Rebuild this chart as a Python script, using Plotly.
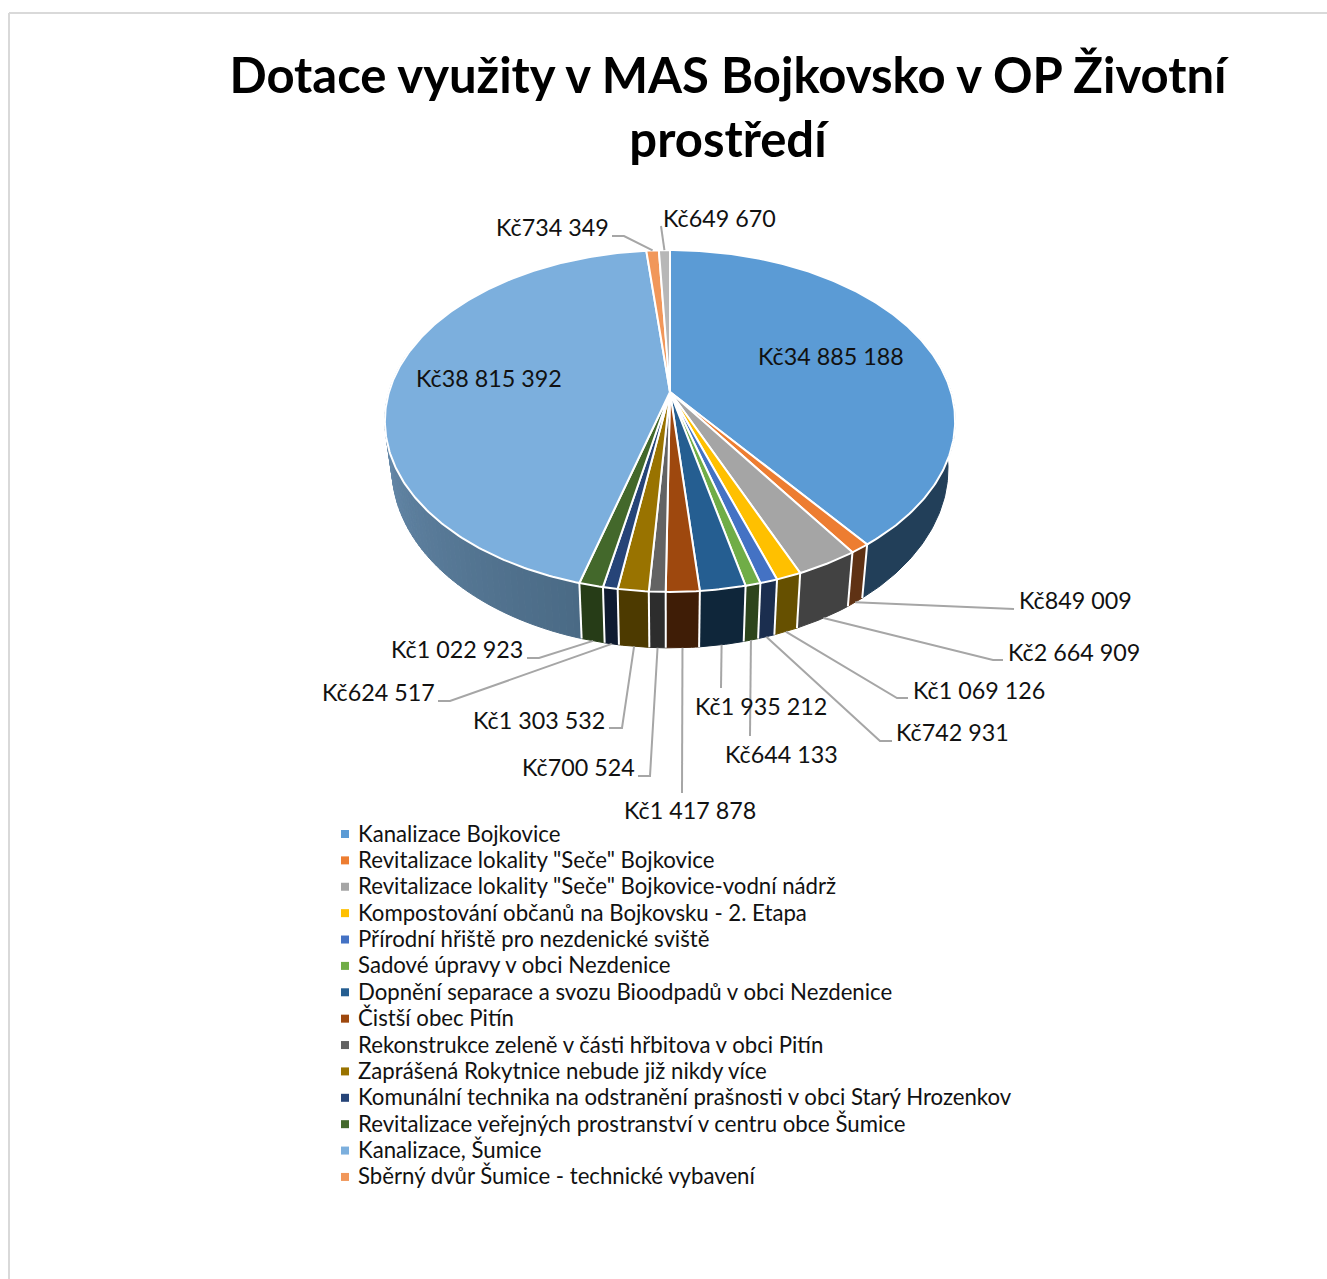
import math
import plotly.graph_objects as go

# ---------- data ----------
names = [
    "Kanalizace Bojkovice",
    'Revitalizace lokality "Seče" Bojkovice',
    'Revitalizace lokality "Seče" Bojkovice-vodní nádrž',
    "Kompostování občanů na Bojkovsku - 2. Etapa",
    "Přírodní hřiště pro nezdenické sviště",
    "Sadové úpravy v obci Nezdenice",
    "Dopnění separace a svozu Bioodpadů v obci Nezdenice",
    "Čistší obec Pitín",
    "Rekonstrukce zeleně v části hřbitova v obci Pitín",
    "Zaprášená Rokytnice nebude již nikdy více",
    "Komunální technika na odstranění prašnosti v obci Starý Hrozenkov",
    "Revitalizace veřejných prostranství v centru obce Šumice",
    "Kanalizace, Šumice",
    "Sběrný dvůr Šumice - technické vybavení",
    "",
]
values = [34885188, 849009, 2664909, 1069126, 742931, 644133, 1935212, 1417878,
          700524, 1303532, 624517, 1022923, 38815392, 734349, 649670]

# ---------- styles / layout ----------
top_colors = ["#5b9bd5", "#ed7d31", "#a5a5a5", "#ffc000", "#4472c4", "#70ad47", "#255e91", "#9e480e",
              "#636363", "#997300", "#264478", "#43682b", "#7cafdd", "#f1975a", "#b7b7b7"]
wall_colors = ["#223f59", "#5f3214", "#424242", "#665000", "#1b2e4f", "#2d451c", "#0f263a", "#3f1d06",
               "#2d2d2d", "#4d3a00", "#0f1b30", "#263c17", "#4a6a85", "#60391f", "#494949"]
FONT = "Lato"
LABEL_SIZE = 23.3
LEGEND_SIZE = 22.2
TITLE_SIZE = 49
LABEL_COLOR = "#111111"
CX, CY, A, B, K = 670.0, 392.0, 281.0, 166.0, 0.1695   # top face projection
BX, BY, BS = 0.975, 438.0, 1.05                         # bottom rim projection

# label centre, then elbow points of each leader (slice order)
label_pos = [(831, 356), (1075, 600), (1074, 652), (979, 690), (952, 732), (781, 754), (761, 706),
             (690, 810), (578, 767), (539, 720), (378, 692), (457, 649), (489, 378), (552, 227), (719, 218)]
leader_elbows = [None,
                 [(1005, 609), (1014, 609)],
                 [(993, 660), (1003, 660)],
                 [(897, 698), (908, 698)],
                 [(880, 741), (892, 741)],
                 [(750, 736)],
                 [(721, 688)],
                 [(682, 793)],
                 [(650, 776), (638, 776)],
                 [(622, 728), (609, 728)],
                 [(450, 701), (438, 701)],
                 [(539, 658), (527, 658)],
                 None,
                 [(624, 236), (612, 236)],
                 [(661, 226)]]
LEADER_COLOR = "#a6a6a6"
LEG_MARK_X, LEG_TEXT_X, LEG_Y0, LEG_DY = 345, 358, 833, 26.38


def top_pt(t):
    u, v = math.sin(t), math.cos(t)
    d = 1 + K * v
    return CX + A * u / d, CY - B * v / d


def bot_pt(t):
    u, v = math.sin(t), math.cos(t)
    d = 1 + K * v
    return CX + BX * A * u / d, BY - BS * B * v / d


def mix(c1, c2, f):
    a = [int(c1[i:i + 2], 16) for i in (1, 3, 5)]
    b = [int(c2[i:i + 2], 16) for i in (1, 3, 5)]
    return "#%02x%02x%02x" % tuple(round(p + (q - p) * f) for p, q in zip(a, b))


total = sum(values)
edges = [0.0]
for val in values:
    edges.append(edges[-1] + val / total * 2 * math.pi)

fig = go.Figure()
WALL_MIN, WALL_MAX = math.radians(70), math.radians(290)


def arc(a, b, step=math.radians(0.7)):
    n = max(2, int(abs(b - a) / step) + 1)
    return [a + (b - a) * i / n for i in range(n + 1)]


# side wall
for i, val in enumerate(values):
    a, b = max(edges[i], WALL_MIN), min(edges[i + 1], WALL_MAX)
    if b <= a:
        continue
    parts = 70 if i == 12 else 1
    for p in range(parts):
        s, e = a + (b - a) * p / parts, a + (b - a) * (p + 1) / parts
        ts = arc(s, e)
        pts = [top_pt(t) for t in ts] + [bot_pt(t) for t in reversed(ts)]
        col = wall_colors[i]
        if i == 12:
            col = mix("#4a6a85", "#7297ba", (p + 0.5) / parts)
        fig.add_trace(go.Scatter(x=[q[0] for q in pts] + [pts[0][0]], y=[q[1] for q in pts] + [pts[0][1]],
                                 mode="lines", fill="toself", fillcolor=col, line=dict(color=col, width=1),
                                 hoverinfo="skip", showlegend=False))

# white separators on the wall
for t in edges:
    if WALL_MIN < t < WALL_MAX:
        p, q = top_pt(t), bot_pt(t)
        fig.add_trace(go.Scatter(x=[p[0], q[0]], y=[p[1], q[1]], mode="lines",
                                 line=dict(color="white", width=2), hoverinfo="skip", showlegend=False))

# top face
for i, val in enumerate(values):
    ts = arc(edges[i], edges[i + 1])
    pts = [(CX, CY)] + [top_pt(t) for t in ts] + [(CX, CY)]
    fig.add_trace(go.Scatter(x=[q[0] for q in pts], y=[q[1] for q in pts], mode="lines", fill="toself",
                             fillcolor=top_colors[i], line=dict(color="white", width=2),
                             name=names[i] or "Kč%d" % val, hoverinfo="skip", showlegend=False))

# leaders
for i, elbows in enumerate(leader_elbows):
    if not elbows:
        continue
    mid = (edges[i] + edges[i + 1]) / 2
    start = top_pt(mid) if (mid < WALL_MIN or mid > WALL_MAX) else bot_pt(mid)
    pts = [start] + elbows
    fig.add_trace(go.Scatter(x=[q[0] for q in pts], y=[q[1] for q in pts], mode="lines",
                             line=dict(color=LEADER_COLOR, width=2), hoverinfo="skip", showlegend=False))

# legend markers
legend_idx = [i for i, n in enumerate(names) if n]
fig.add_trace(go.Scatter(x=[LEG_MARK_X] * len(legend_idx), y=[LEG_Y0 + 1 + LEG_DY * k for k in range(len(legend_idx))],
                         mode="markers", marker=dict(symbol="square", size=8, color=[top_colors[i] for i in legend_idx]),
                         hoverinfo="skip", showlegend=False))

annotations = []
for i, val in enumerate(values):
    annotations.append(dict(x=label_pos[i][0], y=label_pos[i][1], text="Kč" + f"{val:,}".replace(",", " "),
                            showarrow=False, xanchor="center", yanchor="middle",
                            font=dict(family=FONT, size=LABEL_SIZE, color=LABEL_COLOR)))
for k, i in enumerate(legend_idx):
    annotations.append(dict(x=LEG_TEXT_X, y=LEG_Y0 + LEG_DY * k, text=names[i], showarrow=False,
                            xanchor="left", yanchor="middle", xshift=-2,
                            font=dict(family=FONT, size=LEGEND_SIZE, color=LABEL_COLOR)))

fig.update_layout(
    width=1327, height=1279, autosize=False,
    margin=dict(l=0, r=0, t=0, b=0),
    paper_bgcolor="white", plot_bgcolor="white",
    xaxis=dict(range=[0, 1327], visible=False, fixedrange=True),
    yaxis=dict(range=[1279, 0], visible=False, fixedrange=True),
    showlegend=False,
    title=dict(text="<b>Dotace využity v MAS Bojkovsko v OP Životní<br>prostředí</b>",
               x=728 / 1327, xanchor="center", y=1 - 93 / 1279, yanchor="middle", yref="container",
               font=dict(family=FONT, size=TITLE_SIZE, color="black")),
    annotations=annotations,
    shapes=[dict(type="line", xref="x", yref="y", x0=9, x1=1327, y0=13, y1=13, line=dict(color="#d9d9d9", width=2)),
            dict(type="line", xref="x", yref="y", x0=9, x1=9, y0=13, y1=1279, line=dict(color="#d9d9d9", width=2))],
)
fig.write_html("out.html", config={"displayModeBar": False},
               post_script="document.body.style.margin='0';document.documentElement.style.overflow='hidden';")
